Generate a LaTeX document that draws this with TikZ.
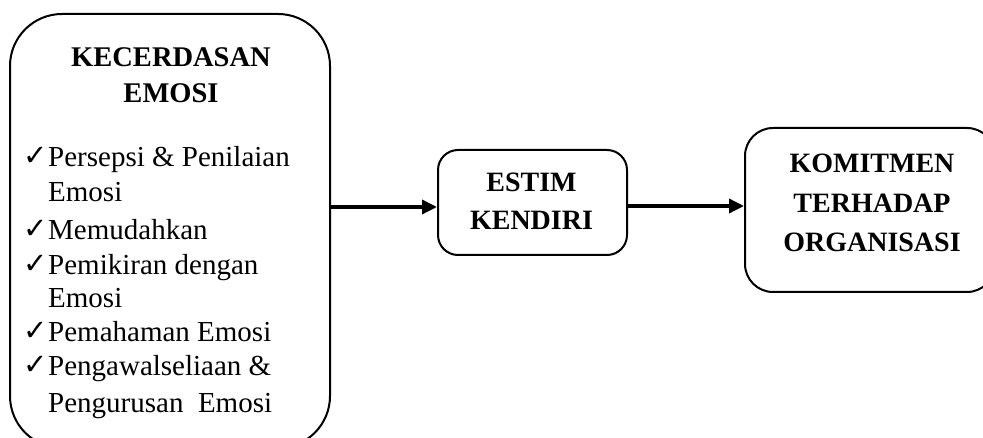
\documentclass[tikz,border=0pt]{standalone}
\usepackage{fontspec}
\setmainfont{Liberation Serif}
\newfontfamily\symfont{DejaVu Sans}
\usetikzlibrary{arrows.meta}
\tikzset{
  box/.style={draw, line width=2pt, inner sep=0pt},
  arr/.style={line width=3.4pt, -{Triangle[length=15pt,width=14pt]}},
  head/.style={inner sep=0pt, anchor=base, align=center, font=\fontsize{28.5}{36}\bfseries\selectfont},
  item/.style={inner sep=0pt, anchor=base west, align=left, font=\fontsize{29}{35}\selectfont},
  tick/.style={inner sep=0pt, anchor=base west, font=\symfont\fontsize{29}{29}\selectfont},
}
\begin{document}
\begin{tikzpicture}[x=1pt,y=-1pt]
\useasboundingbox (0,0) rectangle (983,438);
% boxes
\node[box, rounded corners=52pt, minimum width=320pt, minimum height=434pt] (lbox) at (170,231) {};
\node[box, rounded corners=20pt, minimum width=189pt, minimum height=105pt] (mbox) at (532.5,202.5) {};
\node[box, rounded corners=28pt, minimum width=250pt, minimum height=164pt] (rbox) at (870,210) {};
% left texts (anchored at the baseline of the last line)
\node[head] (lhead) at (171,103) {KECERDASAN\\EMOSI};
\node[tick] (t1) at (23,166) {✓};
\node[item] (i1) at (48,202) {Persepsi \& Penilaian\\Emosi};
\node[tick] (t2) at (23,239) {✓};
\node[item] (i2) at (48,240) {Memudahkan};
\node[tick] (t3) at (23,274) {✓};
\node[item, font=\fontsize{29}{33}\selectfont] (i3) at (48,308) {Pemikiran dengan\\Emosi};
\node[tick] (t4) at (23,341) {✓};
\node[item] (i4) at (48,342) {Pemahaman Emosi};
\node[tick] (t5) at (23,374) {✓};
\node[item, font=\fontsize{29}{37}\selectfont] (i5) at (48,412) {Pengawalseliaan \&\\Pengurusan\ \ Emosi};
% middle text
\node[head, font=\fontsize{28}{38}\bfseries\selectfont] (mtext) at (531.5,230) {ESTIM\\KENDIRI};
% right text
\node[head, font=\fontsize{28}{39.5}\bfseries\selectfont] (rtext) at (872,252) {KOMITMEN\\TERHADAP\\ORGANISASI};
% arrows
\coordinate (ay1) at (0,207);
\coordinate (ay2) at (0,206);
\draw[arr] (lbox.east |- ay1) -- (mbox.west |- ay1);
\draw[arr] (mbox.east |- ay2) -- (rbox.west |- ay2);
\end{tikzpicture}
\end{document}
